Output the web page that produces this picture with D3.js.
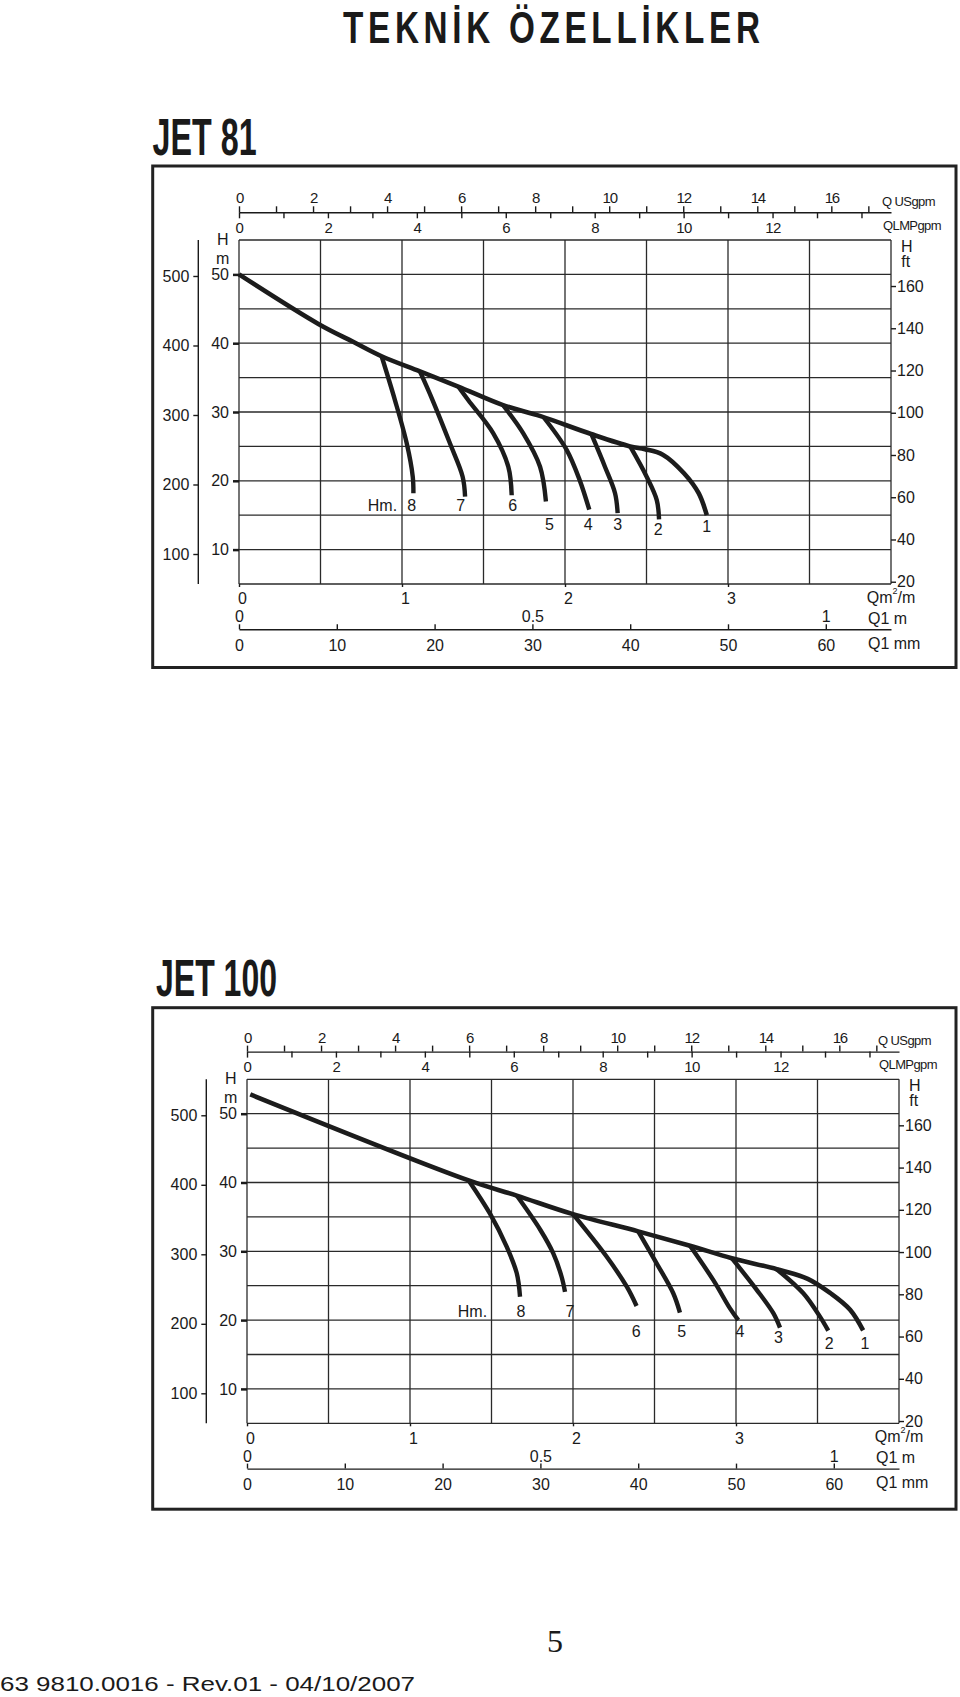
<!DOCTYPE html>
<html><head><meta charset="utf-8">
<script src="https://cdn.jsdelivr.net/npm/d3@7"></script>
<style>
body{margin:0;background:#fff;}
svg text{font-family:"Liberation Sans",Arial,Helvetica,sans-serif;fill:#1a1a1a;}
</style></head><body>
<svg id="c" width="960" height="1697"></svg>
<script>
// ---------- axis tick values ----------
const usgpmTicks = d3.range(0, 18);
const usgpmLabels = [0, 2, 4, 6, 8, 10, 12, 14, 16];
const impTicks = d3.range(0, 15);
const impLabels = [0, 2, 4, 6, 8, 10, 12];
const m3hLabels = [0, 1, 2, 3];
const lpsLabels = [0, 0.5, 1];
const lpmLabels = [0, 10, 20, 30, 40, 50, 60];
const headMLabels = [10, 20, 30, 40, 50];
const headOuterLabels = [100, 200, 300, 400, 500];
const headFtLabels = [20, 40, 60, 80, 100, 120, 140, 160];
const gridQ = [0, 0.5, 1, 1.5, 2, 2.5, 3, 3.5, 4];
const gridH = [5, 10, 15, 20, 25, 30, 35, 40, 45, 50, 55];
const curveNames = ["8", "7", "6", "5", "4", "3", "2", "1"];

// ---------- JET 81 (Q m3/h, H m) ----------
const jet81Main = [[0, 50], [0.487, 42.8], [0.70, 40.2], [0.875, 38.1], [1.11, 35.9], [1.345, 33.7],
  [1.62, 31.0], [1.85, 29.4], [2.16, 26.8], [2.40, 25.0], [2.49, 24.6], [2.60, 23.8], [2.73, 21.1],
  [2.82, 18.2], [2.87, 15.0]];
const jet81Branches = [
  [[0.875, 38.1], [0.957, 31.7], [1.029, 25.45], [1.066, 20.6], [1.070, 18.2]],
  [[1.11, 35.9], [1.188, 31.7], [1.294, 25.45], [1.372, 20.6], [1.387, 17.7]],
  [[1.345, 33.7], [1.407, 31.7], [1.56, 26.9], [1.652, 22.05], [1.673, 17.9]],
  [[1.62, 31.0], [1.744, 26.9], [1.847, 22.05], [1.883, 17.0]],
  [[1.87, 29.2], [2.01, 24.5], [2.09, 20.1], [2.149, 15.8]],
  [[2.164, 26.66], [2.245, 22.05], [2.307, 18.2], [2.323, 15.3]],
  [[2.40, 25.0], [2.501, 20.6], [2.563, 17.2], [2.577, 14.4]]
];
const jet81NamePos = [[1.060, 16.48], [1.360, 16.48], [1.679, 16.48], [1.904, 13.58],
  [2.143, 13.58], [2.323, 13.58], [2.572, 12.95], [2.869, 13.43]];
const jet81HmPos = [0.880, 16.48];

// ---------- JET 100 ----------
const jet100Main = [[0.02, 52.8], [1.36, 40.3], [1.655, 38.1], [2.0, 35.4], [2.40, 32.9], [2.718, 30.8],
  [2.974, 29.0], [3.25, 27.4], [3.44, 26.0], [3.58, 23.9], [3.70, 21.5], [3.78, 18.5]];
const jet100Branches = [
  [[1.36, 40.3], [1.49, 35.5], [1.593, 30.67], [1.655, 26.8], [1.675, 23.4]],
  [[1.655, 38.1], [1.80, 33.1], [1.879, 29.7], [1.93, 26.3], [1.951, 24.1]],
  [[2.0, 35.4], [2.207, 29.2], [2.33, 24.85], [2.39, 22.05]],
  [[2.40, 32.9], [2.513, 28.25], [2.615, 23.9], [2.656, 21.1]],
  [[2.718, 30.8], [2.861, 25.8], [2.963, 21.7], [3.014, 20.0]],
  [[2.974, 29.0], [3.127, 24.4], [3.229, 21.0], [3.27, 18.9]],
  [[3.25, 27.4], [3.413, 23.9], [3.515, 20.5], [3.566, 18.46]]
];
const jet100NamePos = [[1.681, 21.22], [1.982, 21.22], [2.387, 18.31], [2.667, 18.31],
  [3.025, 18.31], [3.26, 17.4], [3.572, 16.53], [3.791, 16.53]];
const jet100HmPos = [1.383, 21.22];

// ---------- scales ----------
const xQ = d3.scaleLinear().domain([0, 4]).range([239, 891]);
const yH = d3.scaleLinear().domain([5, 55]).range([584, 240]);
const xUS = d3.scaleLinear().domain([0, 4 * 4.403]).range(xQ.range());
const xIMP = d3.scaleLinear().domain([0, 4 * 3.666]).range(xQ.range());
const xLps = d3.scaleLinear().domain([0, 4 / 3.6]).range(xQ.range());
const xLpm = d3.scaleLinear().domain([0, 4 * 1000 / 60]).range(xQ.range());
const yFt = d3.scaleLinear().domain([20, 160]).range([yH(5.33), yH(48.31)]);
const yOuter = d3.scaleLinear().domain([100, 500]).range([yH(9.36), yH(49.77)]);
const plain = d => String(d);

const svg = d3.select("#c");
const INK = "#1a1a1a";
const BOLD = "'Liberation Sans',Arial,Helvetica,sans-serif";

// page title (narrow glyphs, wide spacing)
svg.append("text").attr("transform", "translate(343,42.7) scale(0.74,1)")
  .attr("textLength", 417 / 0.74).attr("lengthAdjust", "spacing")
  .style("font-family", BOLD).style("font-weight", "bold").style("font-size", "45px")
  .text("TEKNİK ÖZELLİKLER");

function styleAxis(g, size) {
  g.selectAll("text").style("font-family", "'Liberation Sans',Arial,sans-serif")
    .style("font-size", size + "px").attr("fill", INK);
  g.selectAll("line").attr("stroke", INK).attr("stroke-width", 1.4);
  g.select(".domain").attr("stroke", INK).attr("stroke-width", 1.4);
}

function drawPanel(p) {
  // frame
  svg.append("rect").attr("x", 152.7).attr("y", p.boxY).attr("width", 803.3).attr("height", 501.5)
    .attr("fill", "none").attr("stroke", "#222").attr("stroke-width", 3);
  // panel title
  svg.append("text").attr("x", p.titleX).attr("y", p.titleY)
    .attr("textLength", p.titleW).attr("lengthAdjust", "spacingAndGlyphs")
    .style("font-family", BOLD).style("font-weight", "bold").style("font-size", "52px").text(p.title);

  const g = svg.append("g").attr("transform", `translate(${p.dx},${p.dy})`);

  // grid
  g.append("g").selectAll("line").data(gridQ).join("line")
    .attr("x1", d => xQ(d)).attr("x2", d => xQ(d)).attr("y1", yH(55)).attr("y2", yH(5))
    .attr("stroke", "#2a2a2a").attr("stroke-width", 1.3);
  g.append("g").selectAll("line").data(gridH).join("line")
    .attr("y1", d => yH(d)).attr("y2", d => yH(d)).attr("x1", xQ(0)).attr("x2", xQ(4))
    .attr("stroke", "#2a2a2a").attr("stroke-width", 1.3);

  // top axes
  const aUS = g.append("g").attr("transform", `translate(0,${212.3})`)
    .call(d3.axisTop(xUS).tickValues(usgpmTicks).tickSize(6).tickSizeOuter(0).tickPadding(3)
      .tickFormat(d => usgpmLabels.includes(d) ? d : ""));
  styleAxis(aUS, 15);
  aUS.selectAll("text").style("letter-spacing", "-1.2px");
  const aIMP = g.append("g").attr("transform", `translate(0,${212.3})`)
    .call(d3.axisBottom(xIMP).tickValues(impTicks).tickSize(6).tickSizeOuter(0).tickPadding(4)
      .tickFormat(d => impLabels.includes(d) ? d : ""));
  styleAxis(aIMP, 15);
  aIMP.select(".domain").remove();
  aIMP.selectAll("text").style("letter-spacing", "-0.5px");

  // left head axes
  const aH = g.append("g").attr("transform", `translate(${xQ(0)},0)`)
    .call(d3.axisLeft(yH).tickValues(headMLabels).tickSize(6).tickPadding(4).tickFormat(plain));
  styleAxis(aH, 16);
  aH.select(".domain").remove();
  aH.selectAll(".tick line").attr("stroke-width", 2.5);

  g.append("line").attr("x1", 198.3).attr("x2", 198.3).attr("y1", yH(55)).attr("y2", yH(5))
    .attr("stroke", INK).attr("stroke-width", 1.4);
  const aO = g.append("g").attr("transform", `translate(198.3,0)`)
    .call(d3.axisLeft(yOuter).tickValues(headOuterLabels).tickSize(5).tickPadding(4).tickFormat(plain));
  styleAxis(aO, 16);
  aO.select(".domain").remove();

  // right ft axis
  const aF = g.append("g").attr("transform", `translate(${xQ(4)},0)`)
    .call(d3.axisRight(yFt).tickValues(headFtLabels).tickSize(5).tickPadding(1).tickFormat(plain));
  styleAxis(aF, 16);
  aF.select(".domain").remove();

  // bottom axes
  const aM = g.append("g").attr("transform", `translate(0,${yH(5)})`)
    .call(d3.axisBottom(xQ).tickValues(m3hLabels).tickSize(3).tickPadding(6).tickFormat(plain));
  styleAxis(aM, 16);
  aM.select(".domain").remove();
  aM.selectAll("text").attr("dx", 3);

  const aL = g.append("g").attr("transform", `translate(0,${605})`)
    .call(d3.axisBottom(xLps).tickValues(lpsLabels).tickSize(0).tickPadding(6).tickFormat(plain));
  styleAxis(aL, 16);
  aL.select(".domain").remove();

  const aP = g.append("g").attr("transform", `translate(0,${629.3})`)
    .call(d3.axisBottom(xLpm).tickValues(lpmLabels).tickSize(-5).tickSizeOuter(0).tickPadding(10).tickFormat(plain));
  styleAxis(aP, 16);

  // unit labels
  const t = (x, y, s, size, anchor) => g.append("text").attr("x", x).attr("y", y)
    .attr("dominant-baseline", "central").attr("text-anchor", anchor || "start")
    .style("font-size", size + "px").text(s);
  t(222.7, 239, "H", 16, "middle");
  t(222.7, 258.5, "m", 16, "middle");
  t(906.7, 246, "H", 16, "middle");
  t(905.7, 261, "ft", 16, "middle");
  t(p.topLabelX, 201.7, "Q USgpm", 13).style("letter-spacing", "-0.6px");
  t(p.topLabelX + 1, 225, "QLMPgpm", 13).style("letter-spacing", "-0.6px");
  const qm = t(866.7, 597, "Qm", 16);
  qm.append("tspan").attr("dy", -6).style("font-size", "9px").text("2");
  qm.append("tspan").attr("dy", 6).text("/m");
  t(868, 618, "Q1 m", 16);
  t(868, 643, "Q1 mm", 16);

  // curves
  const line = d3.line().x(d => xQ(d[0])).y(d => yH(d[1])).curve(d3.curveCatmullRom.alpha(0.5));
  g.append("path").datum(p.main).attr("d", line)
    .attr("fill", "none").attr("stroke", "#1c1c1c").attr("stroke-width", 4.6).attr("stroke-linejoin", "round");
  g.append("g").selectAll("path").data(p.branches).join("path").attr("d", line)
    .attr("fill", "none").attr("stroke", "#1c1c1c").attr("stroke-width", 4.4).attr("stroke-linejoin", "round");

  // curve labels
  g.append("g").selectAll("text").data(p.namePos).join("text")
    .attr("x", d => xQ(d[0])).attr("y", d => yH(d[1]))
    .attr("text-anchor", "middle").attr("dominant-baseline", "central")
    .style("font-size", "16px").text((d, i) => curveNames[i]);
  t(xQ(p.hmPos[0]), yH(p.hmPos[1]), "Hm.", 16, "middle");
}

drawPanel({ dx: 0, dy: 0, boxY: 166, title: "JET 81", titleX: 152.6, titleY: 154.5, titleW: 104,
  main: jet81Main, branches: jet81Branches, namePos: jet81NamePos, hmPos: jet81HmPos, topLabelX: 882 });
drawPanel({ dx: 8, dy: 839.3, boxY: 1007.7, title: "JET 100", titleX: 156, titleY: 996, titleW: 121,
  main: jet100Main, branches: jet100Branches, namePos: jet100NamePos, hmPos: jet100HmPos, topLabelX: 870 });

// footer
svg.append("text").attr("x", 555).attr("y", 1652).attr("text-anchor", "middle")
  .style("font-family", "'Liberation Serif','Times New Roman',serif").style("font-size", "32px").text("5");
svg.append("text").attr("x", 0).attr("y", 1691).attr("textLength", 415).attr("lengthAdjust", "spacingAndGlyphs")
  .style("font-family", "'Liberation Sans',Arial,sans-serif")
  .style("font-size", "20px").text("63 9810.0016  -  Rev.01 - 04/10/2007");
</script>
</body></html>
